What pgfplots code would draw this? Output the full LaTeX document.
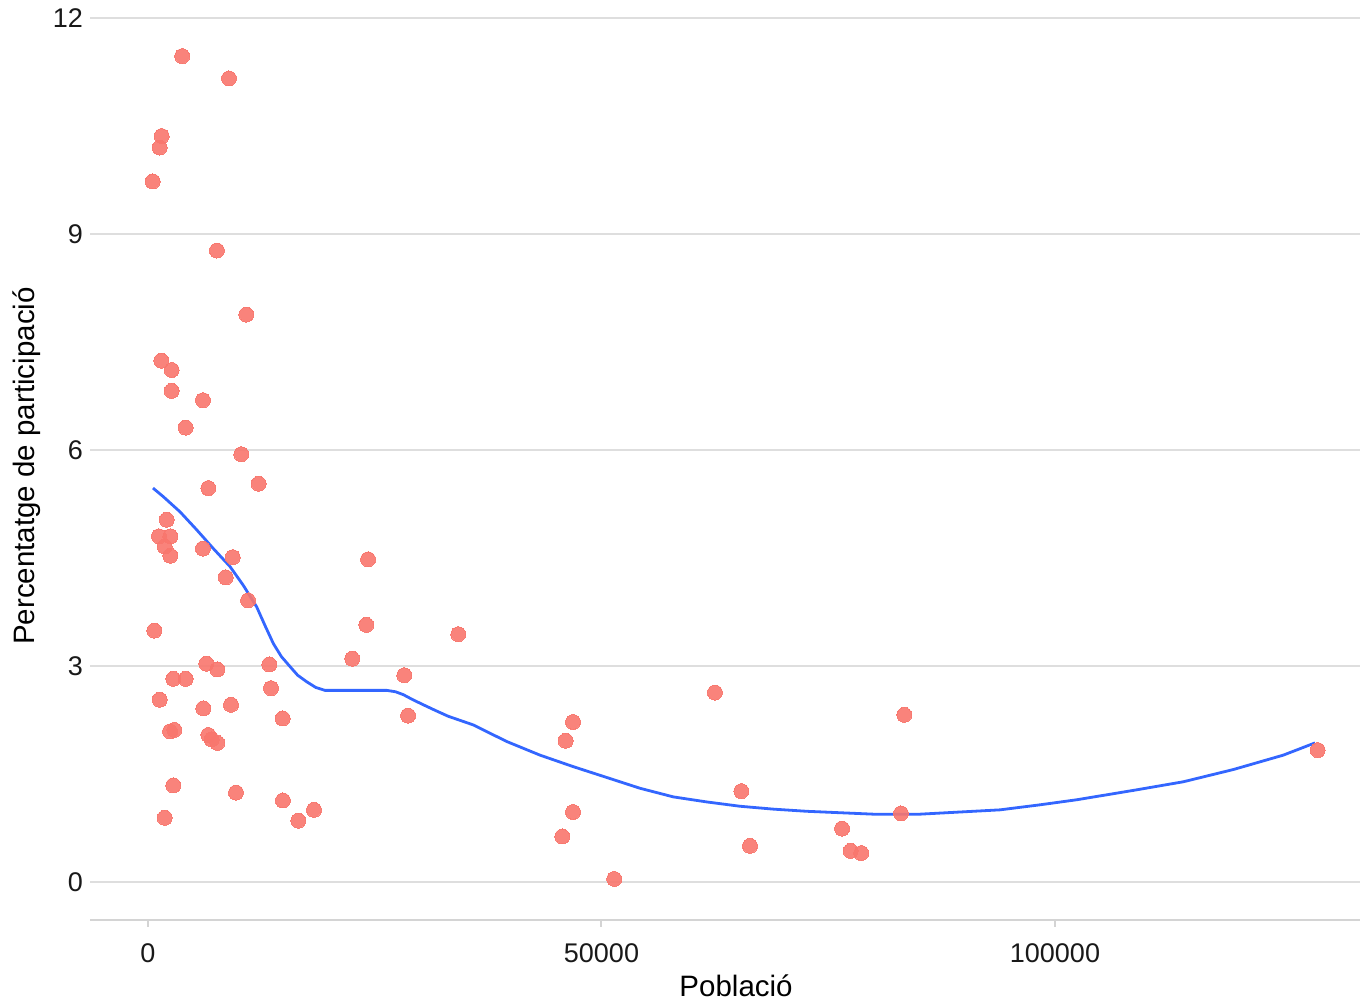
\documentclass[border=0pt]{standalone}
\usepackage{fontspec}
\setmainfont{Liberation Sans}
\usepackage{pgfplots}
\pgfplotsset{compat=1.18}
\definecolor{pt}{HTML}{F8766D}
\definecolor{ln}{HTML}{3366FF}
\definecolor{grd}{HTML}{DEDEDE}
\definecolor{axl}{HTML}{D4D4D4}
\begin{document}
\begin{tikzpicture}
\begin{axis}[
  name=ax,
  scale only axis,
  width=635pt, height=460pt,
  xmin=-6395, xmax=133630,
  ymin=-0.53, ymax=12.25,
  axis x line*=bottom,
  axis y line*=left,
  x axis line style={draw=axl, line width=1.2pt},
  y axis line style={draw=none},
  scaled x ticks=false,
  scaled y ticks=false,
  xtick={0,50000,100000},
  xticklabels={0,50000,100000},
  ytick={0,3,6,9,12},
  yticklabels={0,3,6,9,12},
  ymajorgrids,
  grid style={draw=grd, line width=1pt},
  tick style={draw=axl, line width=1pt},
  xtick align=outside,
  major tick length=3.5pt,
  ytick style={draw=none},
  tick label style={font=\fontsize{13.5}{16}\selectfont, text=black!90},
  xticklabel style={yshift=-5pt},
  yticklabel style={anchor=east},
  /pgf/number format/assume math mode=true,
  xlabel={Població},
  ylabel={Percentatge de participació},
  label style={font=\fontsize{14.75}{17}\selectfont, text=black},
  xlabel style={at={(axis description cs:0.5087,-0.0837)}, anchor=base},
  ylabel style={at={(axis description cs:-0.0496,0.4935)}, anchor=center},
  clip=false,
]
\addplot[only marks, mark=*, mark size=3.75pt, color=pt, opacity=0.9,
  mark options={line width=0pt, draw=pt, fill=pt}] coordinates {
(3770,11.47) (8930,11.16) (1510,10.36) (1290,10.20) (518,9.73) (7600,8.77)
(10840,7.88) (1470,7.24) (2610,7.11) (2610,6.82) (6060,6.69) (4150,6.31)
(10290,5.94) (12200,5.53) (6650,5.47) (2060,5.03) (1210,4.80) (2460,4.80)
(1840,4.66) (2460,4.53) (6060,4.63) (9340,4.51) (24260,4.48) (8570,4.23)
(11030,3.91) (24070,3.57) (700,3.49) (22520,3.10) (6430,3.03) (7640,2.95)
(13380,3.02) (28260,2.87) (2790,2.82) (4150,2.82) (13560,2.69) (1290,2.53)
(6100,2.41) (9150,2.46) (28670,2.31) (14850,2.27) (2430,2.09) (2900,2.11)
(6650,2.04) (7020,1.98) (7640,1.93) (2790,1.34) (9700,1.24) (14880,1.13)
(18300,1.00) (16570,0.85) (1840,0.89) (34210,3.44) (62510,2.63) (46860,2.22)
(46050,1.96) (83390,2.32) (65420,1.26) (46860,0.97) (45680,0.63) (51410,0.04)
(66370,0.50) (76520,0.74) (77470,0.43) (78640,0.40) (83020,0.95) (128960,1.83)
};
\addplot[ln, line width=1.4pt, no markers] coordinates {
(550,5.47) (1690,5.35) (3530,5.14) (5370,4.89) (7200,4.63) (9040,4.38)
(10500,4.12) (11980,3.82) (12900,3.56) (13820,3.31) (14700,3.13) (15660,2.99)
(16500,2.87) (17490,2.78) (18500,2.70) (19510,2.66)
(26320,2.66) (27300,2.64) (28150,2.60) (29200,2.53) (30350,2.46) (31700,2.38) (33100,2.30) (35860,2.18)
(39540,1.95) (43220,1.76) (46890,1.60) (50570,1.45) (54240,1.30)
(57920,1.18) (61600,1.11) (65270,1.05) (68940,1.01) (72620,0.98)
(76300,0.96) (79970,0.94) (85120,0.94) (89530,0.97) (93940,1.00)
(98350,1.07) (102390,1.14) (108630,1.27) (114150,1.39) (119660,1.56)
(125170,1.76) (128670,1.93)
};
\end{axis}
\pgfresetboundingbox
\useasboundingbox ([xshift=-45pt,yshift=-42pt]ax.south west) rectangle (ax.north east);
\end{tikzpicture}
\end{document}
